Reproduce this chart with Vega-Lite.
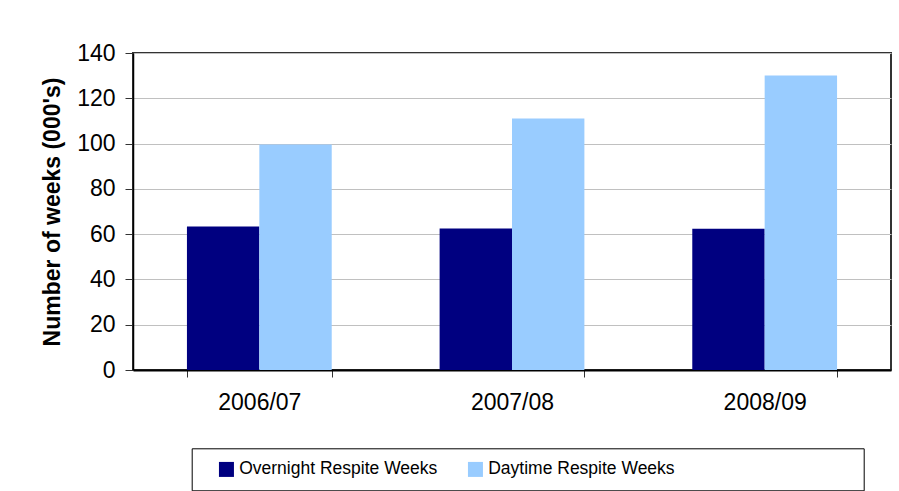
{
  "$schema": "https://vega.github.io/schema/vega-lite/v6.json",
  "width": 758,
  "height": 317,
  "autosize": {"type": "none"},
  "padding": {"left": 133, "top": 53, "right": 8, "bottom": 121},
  "background": "white",
  "config": {
    "font": "Liberation Sans",
    "view": {"stroke": "#333333", "strokeWidth": 2}
  },
  "data": {
    "values": [
      {"year": "2006/07", "series": "Overnight Respite Weeks", "weeks": 63.4},
      {"year": "2006/07", "series": "Daytime Respite Weeks", "weeks": 99.6},
      {"year": "2007/08", "series": "Overnight Respite Weeks", "weeks": 62.5},
      {"year": "2007/08", "series": "Daytime Respite Weeks", "weeks": 111.1},
      {"year": "2008/09", "series": "Overnight Respite Weeks", "weeks": 62.4},
      {"year": "2008/09", "series": "Daytime Respite Weeks", "weeks": 130.1}
    ]
  },
  "mark": {"type": "bar"},
  "encoding": {
    "x": {
      "field": "year",
      "type": "nominal",
      "scale": {"paddingInner": 0.427, "paddingOuter": 0.2135},
      "axis": {
        "title": null,
        "labelAngle": 0,
        "tickBand": "extent",
        "tickSize": 7,
        "tickColor": "#333333",
        "domainColor": "black",
        "domainWidth": 2,
        "labelFontSize": 23,
        "labelColor": "black",
        "labelPadding": 14,
        "grid": false
      }
    },
    "xOffset": {
      "field": "series",
      "type": "nominal",
      "sort": ["Overnight Respite Weeks", "Daytime Respite Weeks"]
    },
    "y": {
      "field": "weeks",
      "type": "quantitative",
      "scale": {"domain": [0, 140]},
      "axis": {
        "values": [0, 20, 40, 60, 80, 100, 120, 140],
        "title": "Number of weeks (000's)",
        "titleFontSize": 23,
        "titleFontWeight": "bold",
        "titleColor": "black",
        "titlePadding": 12,
        "labelFontSize": 23,
        "labelColor": "black",
        "labelPadding": 10,
        "tickSize": 8,
        "tickColor": "#333333",
        "domainColor": "black",
        "domainWidth": 1.5,
        "gridColor": "#c0c0c0"
      }
    },
    "color": {
      "field": "series",
      "type": "nominal",
      "sort": ["Overnight Respite Weeks", "Daytime Respite Weeks"],
      "scale": {
        "domain": ["Overnight Respite Weeks", "Daytime Respite Weeks"],
        "range": ["#000080", "#99ccff"]
      },
      "legend": {
        "orient": "none",
        "legendX": 58.7,
        "legendY": 395.3,
        "direction": "horizontal",
        "columns": 2,
        "title": " ",
        "titleOrient": "right",
        "titlePadding": 177,
        "titleFontSize": 8,
        "strokeColor": "black",
        "fillColor": "white",
        "padding": 12,
        "symbolType": "square",
        "symbolSize": 225,
        "symbolOffset": 14,
        "symbolStrokeWidth": 0,
        "labelFontSize": 17.5,
        "labelLimit": 400,
        "labelColor": "black",
        "labelOffset": 4,
        "columnPadding": 15
      }
    }
  }
}
